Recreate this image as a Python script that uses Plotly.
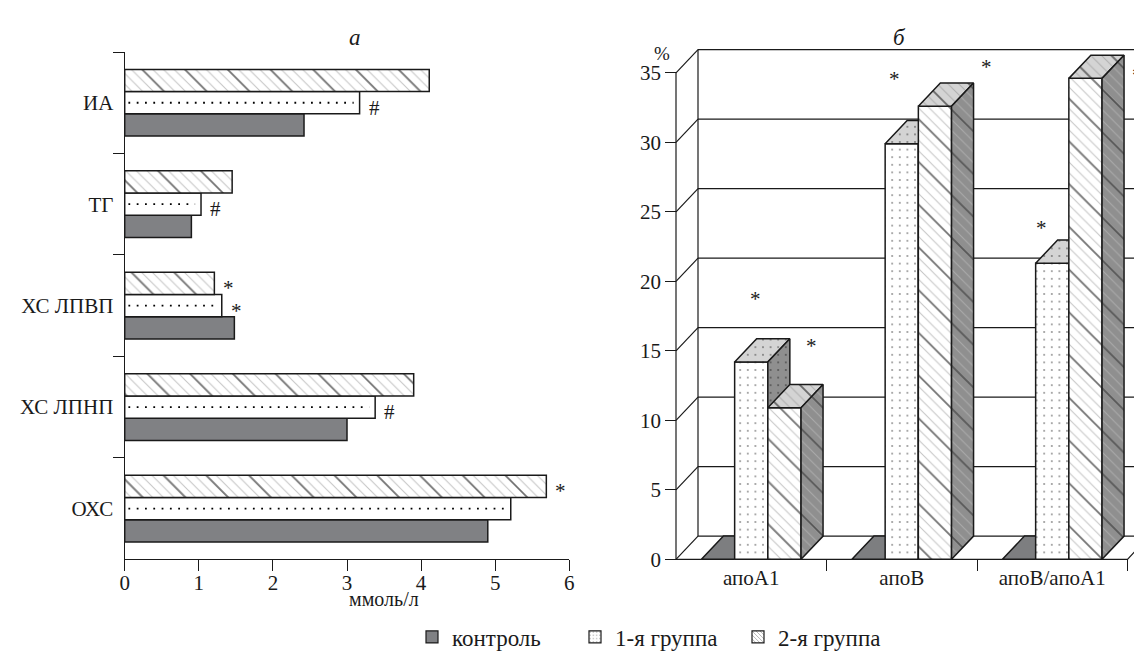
import plotly.graph_objects as go

# ---------------- data: panel "а" ----------------
cats_a = ["ОХС", "ХС ЛПНП", "ХС ЛПВП", "ТГ", "ИА"]
control_a = [4.90, 3.00, 1.48, 0.90, 2.42]
group1_a = [5.21, 3.38, 1.31, 1.03, 3.17]
group2_a = [5.69, 3.90, 1.21, 1.45, 4.11]
x_ticks_a = [0, 1, 2, 3, 4, 5, 6]
marks_a_cat = [4, 3, 2, 2, 1, 0]
marks_a_series = [1, 1, 2, 1, 1, 2]
marks_a_text = ["#", "#", "*", "*", "#", "*"]

# ---------------- data: panel "б" ----------------
cats_b = ["апоА1", "апоВ", "апоВ/апоА1"]
control_b = [0, 0, 0]
group1_b = [14.2, 29.9, 21.3]
group2_b = [10.9, 32.6, 34.6]
y_ticks_b = [0, 5, 10, 15, 20, 25, 30, 35]
stars_b_x = [0.025, 0.40, 0.95, 1.56, 1.93, 2.54]
stars_b_y = [19.1, 15.7, 34.9, 35.8, 24.2, 35.2]

series_names = ["контроль", "1-я группа", "2-я группа"]

W, H = 1134, 653
FONT = "Liberation Serif, Times New Roman, Times, serif"
BLACK = "#1a1a1a"
DARK = "#808184"

FINE = 7.57      # hatch: ~10.7 px horizontal spacing
COARSE = 30.2    # hatch: ~42.7 px horizontal spacing

fig = go.Figure()

# ================= panel а : horizontal grouped bars =================
wa = 0.219
offs_a = [-1.5 * wa, -0.5 * wa, 0.5 * wa]
ya = list(range(len(cats_a)))
fine_hatch = dict(shape="\\", fgcolor="#8c8c8c", bgcolor="white", size=FINE, solidity=0.14)
coarse_hatch = dict(shape="\\", fgcolor="#111111", bgcolor="rgba(0,0,0,0)", size=COARSE, solidity=0.06)

fig.add_trace(go.Bar(x=control_a, y=ya, orientation="h", width=wa, offset=offs_a[0],
                     marker=dict(color=DARK, line=dict(color=BLACK, width=1.5)),
                     showlegend=False, xaxis="x", yaxis="y", hoverinfo="skip"))
fig.add_trace(go.Bar(x=group1_a, y=ya, orientation="h", width=wa, offset=offs_a[1],
                     marker=dict(color="white", line=dict(color=BLACK, width=1.5)),
                     showlegend=False, xaxis="x", yaxis="y", hoverinfo="skip"))
fig.add_trace(go.Bar(x=group2_a, y=ya, orientation="h", width=wa, offset=offs_a[2],
                     marker=dict(color="white", pattern=fine_hatch, line=dict(color=BLACK, width=0)),
                     showlegend=False, xaxis="x", yaxis="y", hoverinfo="skip"))
fig.add_trace(go.Bar(x=group2_a, y=ya, orientation="h", width=wa, offset=offs_a[2],
                     marker=dict(color="rgba(0,0,0,0)", pattern=coarse_hatch,
                                 line=dict(color=BLACK, width=1.5)),
                     showlegend=False, xaxis="x", yaxis="y", hoverinfo="skip"))
# legend-only entries
fig.add_trace(go.Bar(x=[None], y=[None], orientation="h", name=series_names[0],
                     marker=dict(color=DARK, line=dict(color=BLACK, width=1.2)),
                     xaxis="x", yaxis="y"))
fig.add_trace(go.Bar(x=[None], y=[None], orientation="h", name=series_names[1],
                     marker=dict(color="white", pattern=dict(shape=".", fgcolor="black", bgcolor="white",
                                                             size=4, solidity=0.1),
                                 line=dict(color=BLACK, width=1.2)),
                     xaxis="x", yaxis="y"))
fig.add_trace(go.Bar(x=[None], y=[None], orientation="h", name=series_names[2],
                     marker=dict(color="white", pattern=dict(shape="\\", fgcolor="#555", bgcolor="white",
                                                             size=3.5, solidity=0.3),
                                 line=dict(color=BLACK, width=1.2)),
                     xaxis="x", yaxis="y"))

# dotted centre line of the 1-я группа bars
dot_x, dot_y = [], []
for i, v in enumerate(group1_a):
    dot_x += [0.05, v - 0.08, None]
    dot_y += [ya[i] + offs_a[1] + wa / 2] * 2 + [None]
fig.add_trace(go.Scatter(x=dot_x, y=dot_y, mode="lines", xaxis="x", yaxis="y",
                         line=dict(color="black", width=1.8, dash="1.8px,6.5px"),
                         showlegend=False, hoverinfo="skip"))

series_a = [control_a, group1_a, group2_a]
annotations = []
for c, s, t in zip(marks_a_cat, marks_a_series, marks_a_text):
    annotations.append(dict(x=series_a[s][c], y=ya[c] + offs_a[s] + wa / 2, xref="x", yref="y",
                            text=t, showarrow=False, xanchor="left", xshift=7,
                            yshift=-5,
                            font=dict(family=FONT, size=21, color=BLACK)))

# ================= panel б : pseudo 3-D bars =================
wb = 0.2206
dx = 22 / 150.5
dy = 1.67
x_right = 2.75

# frame / walls
fx, fy = [], []
for v in y_ticks_b:
    fx += [-0.5, -0.5 + dx, None]
    fy += [v, v + dy, None]
    fx += [-0.5 + dx, x_right, None]
    fy += [v + dy, v + dy, None]
fx += [-0.5 + dx, -0.5 + dx, None, -0.5, -0.5, None, -0.5, 2.5, 2.5 + dx, None]
fy += [dy, y_ticks_b[-1] + dy, None, 0, y_ticks_b[-1], None, 0, 0, dy, None]
fig.add_trace(go.Scatter(x=fx, y=fy, mode="lines", xaxis="x2", yaxis="y2",
                         line=dict(color=BLACK, width=1.2), showlegend=False, hoverinfo="skip"))

dots_front = dict(shape=".", fgcolor="black", size=7.6, solidity=0.04)


def face(xs, ys, fillbg, pattern=None, coarse=False, linew=1.5):
    xs = xs + [xs[0]]
    ys = ys + [ys[0]]
    if pattern is None:
        fig.add_trace(go.Scatter(x=xs, y=ys, mode="lines", fill="toself", fillcolor=fillbg,
                                 line=dict(color=BLACK, width=linew), xaxis="x2", yaxis="y2",
                                 showlegend=False, hoverinfo="skip"))
        return
    p = dict(pattern)
    p["bgcolor"] = fillbg
    fig.add_trace(go.Scatter(x=xs, y=ys, mode="lines", fill="toself", fillcolor=fillbg,
                             fillpattern=p, line=dict(color=BLACK, width=0 if coarse else linew),
                             xaxis="x2", yaxis="y2", showlegend=False, hoverinfo="skip"))
    if coarse:
        fig.add_trace(go.Scatter(x=xs, y=ys, mode="lines", fill="toself", fillcolor="rgba(0,0,0,0)",
                                 fillpattern=dict(shape="\\", fgcolor="#111111", bgcolor="rgba(0,0,0,0)",
                                                  size=COARSE, solidity=0.06),
                                 line=dict(color=BLACK, width=linew), xaxis="x2", yaxis="y2",
                                 showlegend=False, hoverinfo="skip"))


series_b = [control_b, group1_b, group2_b]
for c in range(len(cats_b)):
    for s in range(3):
        v = series_b[s][c]
        x0 = c - 1.5 * wb + s * wb
        x1 = x0 + wb
        front = ([x0, x1, x1, x0], [0, 0, v, v])
        top = ([x0, x1, x1 + dx, x0 + dx], [v, v, v + dy, v + dy])
        side = ([x1, x1 + dx, x1 + dx, x1], [0, dy, v + dy, v])
        if s == 0:
            face(*top, "#7d7e80")
        elif s == 1:
            face(*front, "white", dots_front)
            face(*top, "#d4d4d4", dots_front)
            face(*side, "#8f8f8f", dots_front)
        else:
            face(*front, "white", dict(shape="\\", fgcolor="#8c8c8c", size=FINE, solidity=0.14), coarse=True)
            face(*top, "#d4d4d4", dict(shape="\\", fgcolor="#8a8a8a", size=FINE, solidity=0.14), coarse=True)
            face(*side, "#8f8f8f", dict(shape="\\", fgcolor="#c4c4c4", size=FINE, solidity=0.14), coarse=True)

for sx, sy in zip(stars_b_x, stars_b_y):
    annotations.append(dict(x=sx, y=sy, xref="x2", yref="y2", text="*", showarrow=False,
                            yshift=-5, xshift=4 if sx > 2.5 else 0,
                            font=dict(family=FONT, size=21, color=BLACK)))

# titles and units
annotations += [
    dict(x=347 / W, y=1 - 23 / H, xref="paper", yref="paper", text="<i>а</i>", showarrow=False,
         font=dict(family=FONT, size=23, color=BLACK)),
    dict(x=908 / W, y=1 - 23 / H, xref="paper", yref="paper", text="<i>б</i>", showarrow=False,
         font=dict(family=FONT, size=23, color=BLACK)),
    dict(x=662 / W, y=1 - 41 / H, xref="paper", yref="paper", text="%", showarrow=False,
         font=dict(family=FONT, size=19, color=BLACK)),
    dict(x=347 / W, y=1 - 612 / H, xref="paper", yref="paper", text="ммоль/л", showarrow=False,
         font=dict(family=FONT, size=20, color=BLACK)),
]

tickfont = dict(family=FONT, size=21, color=BLACK)
fig.update_layout(
    width=W, height=H, margin=dict(l=0, r=0, t=0, b=0, pad=0, autoexpand=False),
    paper_bgcolor="white", plot_bgcolor="rgba(0,0,0,0)",
    barmode="overlay", showlegend=True,
    legend=dict(orientation="h", x=412 / W, xanchor="left", y=1 - 637 / H, yanchor="middle",
                font=dict(family=FONT, size=23, color=BLACK), itemwidth=30,
                entrywidth=118, entrywidthmode="pixels",
                bgcolor="rgba(0,0,0,0)"),
    annotations=annotations,
    xaxis=dict(domain=[124.7 / W, 569.3 / W], range=[0, 6], tickvals=x_ticks_a,
               ticks="outside", ticklen=11, tickwidth=1.3, tickcolor=BLACK, ticklabelstandoff=-7,
               showline=True, linecolor=BLACK, linewidth=1.3, showgrid=False, zeroline=False,
               tickfont=tickfont, anchor="y", automargin=False, fixedrange=True),
    yaxis=dict(domain=[1 - 559.3 / H, 1 - 52 / H], range=[-0.5, 4.5], tickvals=ya, ticktext=cats_a,
               ticks="outside", ticklen=6, tickcolor="rgba(0,0,0,0)",
               minor=dict(tickmode="array", tickvals=[i + 0.5 for i in ya], ticks="outside",
                          ticklen=11, tickwidth=1.3, tickcolor=BLACK),
               showline=True, linecolor=BLACK, linewidth=1.3, showgrid=False, zeroline=False,
               tickfont=tickfont, anchor="x", automargin=False, fixedrange=True),
    xaxis2=dict(domain=[668 / W, 1.0], range=[-0.5 - 8 / 150.5, -0.5 + 458 / 150.5],
                tickvals=[0, 1, 2], ticktext=cats_b, ticks="", ticklabelstandoff=4,
                minor=dict(tickmode="array", tickvals=[0.5, 1.5, 2.5], ticks="outside",
                           ticklen=11, tickwidth=1.3, tickcolor=BLACK),
                showline=False, showgrid=False, zeroline=False, tickfont=tickfont,
                anchor="free", position=1 - 559.3 / H, automargin=False, fixedrange=True),
    yaxis2=dict(domain=[1 - 566 / H, 1 - 39.4 / H], range=[-6.7 / 13.9, (559.3 - 39.4) / 13.9],
                tickvals=y_ticks_b, ticks="outside", ticklen=10.7, tickwidth=1.3, tickcolor=BLACK,
                showline=False, showgrid=False, zeroline=False, tickfont=tickfont,
                anchor="free", position=676 / W, automargin=False, fixedrange=True),
)

fig.write_html("out.html", config={"displayModeBar": False},
               post_script="document.body.style.margin='0';")
